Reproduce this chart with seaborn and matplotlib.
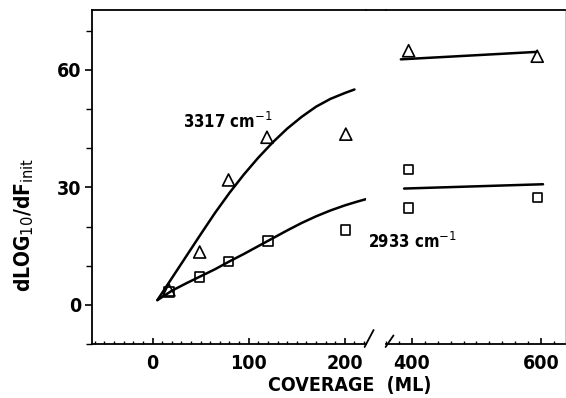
import matplotlib
matplotlib.use("Agg")
import matplotlib.pyplot as plt
from matplotlib.lines import Line2D
from matplotlib.ticker import MultipleLocator
import seaborn as sns

# measured points (coverage in ML)
tri_x = [17, 49, 79, 119, 201, 395, 594]
tri_y = [3.8, 13.5, 31.9, 42.8, 43.6, 64.9, 63.5]
sq_x = [17, 49, 79, 120, 201, 395, 395, 594]
sq_y = [3.3, 7.1, 11.0, 16.3, 19.1, 34.6, 24.7, 27.5]

# fitted curves
fit3317_x = [5, 20, 35, 50, 65, 80, 95, 110, 125, 140, 155, 170, 185, 200, 210]
fit3317_y = [1.2, 6.8, 12.4, 18.0, 23.5, 28.6, 33.3, 37.6, 41.5, 45.0, 48.0, 50.6, 52.6, 54.1, 55.0]
fit2933_x = [5, 20, 35, 50, 65, 80, 95, 110, 125, 140, 155, 170, 185, 200, 212, 225]
fit2933_y = [1.2, 3.6, 5.5, 7.3, 9.1, 11.1, 13.0, 15.0, 17.0, 19.0, 20.9, 22.6, 24.1, 25.4, 26.3, 27.2]
hi3317_x = [383, 593]
hi3317_y = [62.7, 64.6]
hi2933_x = [388, 603]
hi2933_y = [29.7, 30.8]

sns.set_style("ticks")
plt.rcParams["font.family"] = ["DejaVu Sans"]
for k in ("text.color", "axes.labelcolor", "xtick.color", "ytick.color", "axes.edgecolor"):
    plt.rcParams[k] = "black"
FONT = dict(family="DejaVu Sans", weight="bold", stretch="condensed")

W, H = 566, 398
fig = plt.figure(figsize=(W / 100, H / 100), dpi=100)
bot, top = 1 - 344 / H, 334 / H
ax1 = fig.add_axes([92 / W, bot, (366 - 92) / W, top])
ax2 = fig.add_axes([386 / W, bot, (565 - 386) / W, top], sharey=ax1)

for ax in (ax1, ax2):
    sns.scatterplot(x=tri_x, y=tri_y, marker="^", s=75, facecolor="none",
                    edgecolor="black", linewidth=1.2, ax=ax, zorder=3)
    sns.scatterplot(x=sq_x, y=sq_y, marker="s", s=45, facecolor="none",
                    edgecolor="black", linewidth=1.2, ax=ax, zorder=3)

line_kw = dict(color="black", lw=1.8, solid_joinstyle="round", solid_capstyle="round")
sns.lineplot(x=fit3317_x, y=fit3317_y, ax=ax1, **line_kw)
sns.lineplot(x=fit2933_x, y=fit2933_y, ax=ax1, **line_kw)
sns.lineplot(x=hi3317_x, y=hi3317_y, ax=ax2, **line_kw)
sns.lineplot(x=hi2933_x, y=hi2933_y, ax=ax2, **line_kw)

ax1.set_xlim(-63, 222)
ax2.set_xlim(360, 637)
ax1.set_ylim(-10, 75.3)

ax1.spines["right"].set_visible(False)
ax2.spines["left"].set_visible(False)
ax2.spines["right"].set_color("#c8c8c8")
ax2.spines["right"].set_linewidth(0.8)
for ax in (ax1, ax2):
    for s in ("top", "bottom", "left"):
        ax.spines[s].set_linewidth(1.3)

ax1.yaxis.set_major_locator(MultipleLocator(30))
ax1.yaxis.set_minor_locator(MultipleLocator(10))
ax1.xaxis.set_major_locator(MultipleLocator(100))
ax1.xaxis.set_minor_locator(MultipleLocator(10))
ax2.xaxis.set_major_locator(MultipleLocator(200))
ax2.xaxis.set_minor_locator(MultipleLocator(20))
ax1.tick_params(axis="y", which="major", direction="out", length=5, width=1.2, pad=3)
ax1.tick_params(axis="y", which="minor", direction="out", length=4, width=1)
for ax in (ax1, ax2):
    ax.tick_params(axis="x", which="major", direction="in", length=4, width=1.2, pad=7)
    ax.tick_params(axis="x", which="minor", direction="in", length=2.5, width=1)
ax2.tick_params(axis="y", which="both", left=False, labelleft=False)
for ax in (ax1, ax2):
    for lab in ax.get_xticklabels() + ax.get_yticklabels():
        lab.set_fontproperties(dict(FONT, size=14))
ax1.set_xlabel("")
ax1.set_ylabel("")

# top frame line through the gap and the break marks
def px(x, y):
    return x / W, 1 - y / H

for (a, b) in [((366, 10), (386, 10)),
               ((364.6, 347), (373.6, 330)),
               ((385.6, 347), (393.5, 335.4))]:
    (x0, y0), (x1, y1) = px(*a), px(*b)
    fig.add_artist(Line2D([x0, x1], [y0, y1], color="black", lw=1.3))

fig.text(*px(228, 122), "3317 cm$^{-1}$", ha="center", va="center", fontsize=12, **FONT)
fig.text(*px(368, 242), "2933 cm$^{-1}$", ha="left", va="center", fontsize=12, **FONT)
fig.text(*px(350, 385), "COVERAGE  (ML)", ha="center", va="center", fontsize=14, **FONT)
fig.text(*px(24, 225), "dLOG$_{10}$/dF$_{\\mathrm{init}}$", ha="center", va="center",
         rotation=90, fontsize=15, **FONT)

fig.savefig("out.png", dpi=100)
